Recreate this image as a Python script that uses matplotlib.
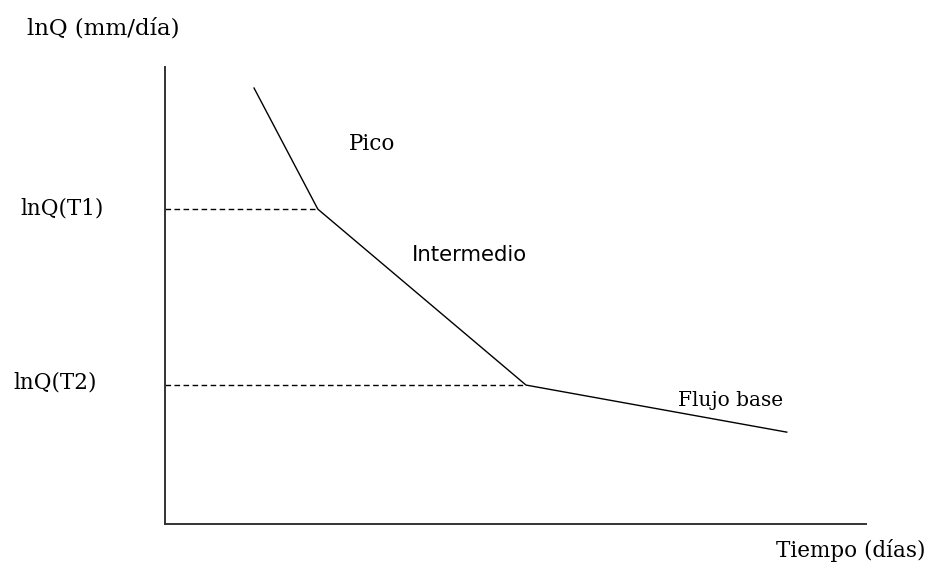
import matplotlib
matplotlib.use("Agg")
import matplotlib.pyplot as plt

# curva de recesion (unidades arbitrarias)
tiempo = [1.27, 2.18, 5.15, 8.87]
lnq = [9.54, 6.89, 3.04, 2.01]

# niveles de referencia
t1_nivel = lnq[1]
t2_nivel = lnq[2]

serif = ['DejaVu Serif']
sans = ['DejaVu Sans']

fig = plt.figure(figsize=(9.3, 5.69), dpi=100)
ax = fig.add_axes([165 / 930, 45 / 569, 701 / 930, 457 / 569])
ax.set_xlim(0, 10)
ax.set_ylim(0, 10)

ax.plot(tiempo, lnq, color='black', lw=1.0)
ax.plot([0, tiempo[1]], [t1_nivel, t1_nivel], color='black', lw=1.0, ls=(0, (4, 2.5)))
ax.plot([0, tiempo[2]], [t2_nivel, t2_nivel], color='black', lw=1.0, ls=(0, (4, 2.5)))

for s in ['top', 'right']:
    ax.spines[s].set_visible(False)
for s in ['left', 'bottom']:
    ax.spines[s].set_linewidth(1.4)
    ax.spines[s].set_color('#333333')
ax.set_xticks([])
ax.set_yticks([])

fs = 15.5
fig.text(27 / 930, 1 - 28 / 569, 'lnQ (mm/día)', family=serif, fontsize=16.5, va='center', ha='left')
fig.text(20 / 930, 1 - 208 / 569, 'lnQ(T1)', family=serif, fontsize=fs, va='center', ha='left')
fig.text(13 / 930, 1 - 383 / 569, 'lnQ(T2)', family=serif, fontsize=fs, va='center', ha='left')
fig.text(349 / 930, 1 - 144 / 569, 'Pico', family=serif, fontsize=fs, va='center', ha='left')
fig.text(412 / 930, 1 - 255 / 569, 'Intermedio', family=sans, fontsize=15.3, va='center', ha='left')
fig.text(678 / 930, 1 - 400 / 569, 'Flujo base', family=serif, fontsize=14.5, va='center', ha='left')
fig.text(925 / 930, 1 - 550 / 569, 'Tiempo (días)', family=serif, fontsize=fs, va='center', ha='right')

fig.savefig('out.png', dpi=100)
